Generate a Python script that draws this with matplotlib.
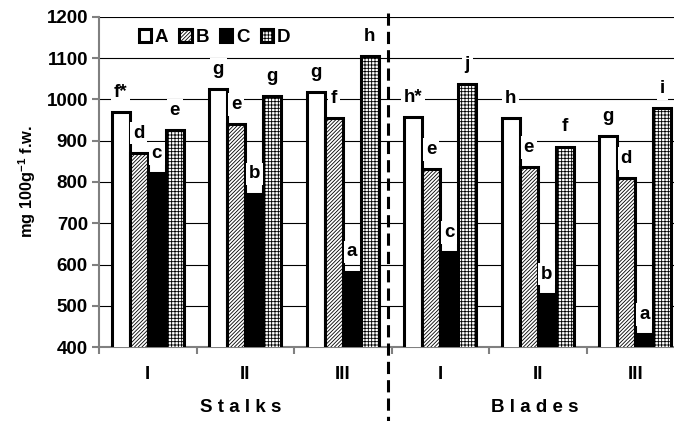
import numpy as np
import matplotlib
matplotlib.use("Agg")
import matplotlib.pyplot as plt
from matplotlib.lines import Line2D

plt.rcParams['font.family'] = ['Liberation Sans', 'DejaVu Sans']
plt.rcParams['font.weight'] = 'bold'
plt.rcParams['hatch.linewidth'] = 0.6
plt.rcParams['mathtext.fontset'] = 'custom'
plt.rcParams['mathtext.rm'] = 'Liberation Sans:bold'
plt.rcParams['mathtext.default'] = 'rm'

# datos
grupos = ['I', 'II', 'III', 'I', 'II', 'III']
series = ['A', 'B', 'C', 'D']
val_A = [969, 1025, 1017, 958, 954, 912]
val_B = [871, 941, 955, 831, 836, 810]
val_C = [822, 772, 583, 630, 529, 432]
val_D = [927, 1008, 1106, 1038, 886, 979]
let_A = ['f*', 'g', 'g', 'h*', 'h', 'g']
let_B = ['d', 'e', 'f', 'e', 'e', 'd']
let_C = ['c', 'b', 'a', 'c', 'b', 'a']
let_D = ['e', 'g', 'h', 'j', 'f', 'i']
partes = ['S t a l k s', 'B l a d e s']

valores = [val_A, val_B, val_C, val_D]
letras = [let_A, let_B, let_C, let_D]
colores = ['white', 'white', 'black', 'white']
tramas = [None, '/////////', None, '+++++']

fs = 13.5

fig = plt.figure(figsize=(6.74, 4.21), dpi=100)
# el eje sigue un poco fuera de la figura a la derecha
ax = fig.add_axes([99/674, 1-347/421, 585/674, 330/421])

x = np.arange(len(grupos))
w = 0.185
for i in range(4):
    pos = x + (i-1.5)*w
    barras = ax.bar(pos, valores[i], w, bottom=0, color=colores[i], edgecolor='black',
                    linewidth=2.2, hatch=tramas[i], label=series[i], zorder=3)
    for j in range(len(x)):
        ax.annotate(letras[i][j], (pos[j], valores[i][j]), xytext=(0, 8),
                    textcoords='offset points', ha='center', va='bottom',
                    fontsize=fs, fontweight='bold', zorder=4,
                    bbox=dict(facecolor='white', edgecolor='none', pad=2))

ax.set_xlim(-0.5, 5.5)
ax.set_ylim(400, 1200)
ax.set_yticks(np.arange(400, 1201, 100))
ax.tick_params(axis='y', labelsize=fs, length=5, width=1.5, color='#808080', pad=3)
ax.set_xticks(x)
ax.set_xticklabels(grupos)
ax.set_xticks(np.arange(-0.5, 6, 1), minor=True)
ax.tick_params(axis='x', which='major', length=0, labelsize=fs, pad=14)
ax.tick_params(axis='x', which='minor', length=5, width=1.5, color='#808080')
ax.grid(axis='y', color='black', linewidth=0.8, zorder=0)
ax.set_axisbelow(True)
for s in ['top', 'right']:
    ax.spines[s].set_visible(False)
for s in ['left', 'bottom']:
    ax.spines[s].set_color('#808080')
    ax.spines[s].set_linewidth(1.5)

ax.set_ylabel('mg 100g$^{-1}$ f.w.', fontsize=11.8, fontweight='bold', labelpad=6)

ax.legend(loc='center left', bbox_to_anchor=(0.055, 0.937), ncol=4, frameon=False,
          fontsize=fs, handlelength=0.65, handleheight=0.65, handletextpad=0.2,
          columnspacing=0.6, borderaxespad=0)

fig.text(241/674, 1-408/421, partes[0], ha='center', va='center', fontsize=fs, fontweight='bold')
fig.text(535/674, 1-408/421, partes[1], ha='center', va='center', fontsize=fs, fontweight='bold')

# linea divisoria
fig.add_artist(Line2D([388/674, 388/674], [1-13/421, 0], color='black', linewidth=2.2,
                      dashes=(4, 2), transform=fig.transFigure))

plt.savefig('out.png', dpi=100)
